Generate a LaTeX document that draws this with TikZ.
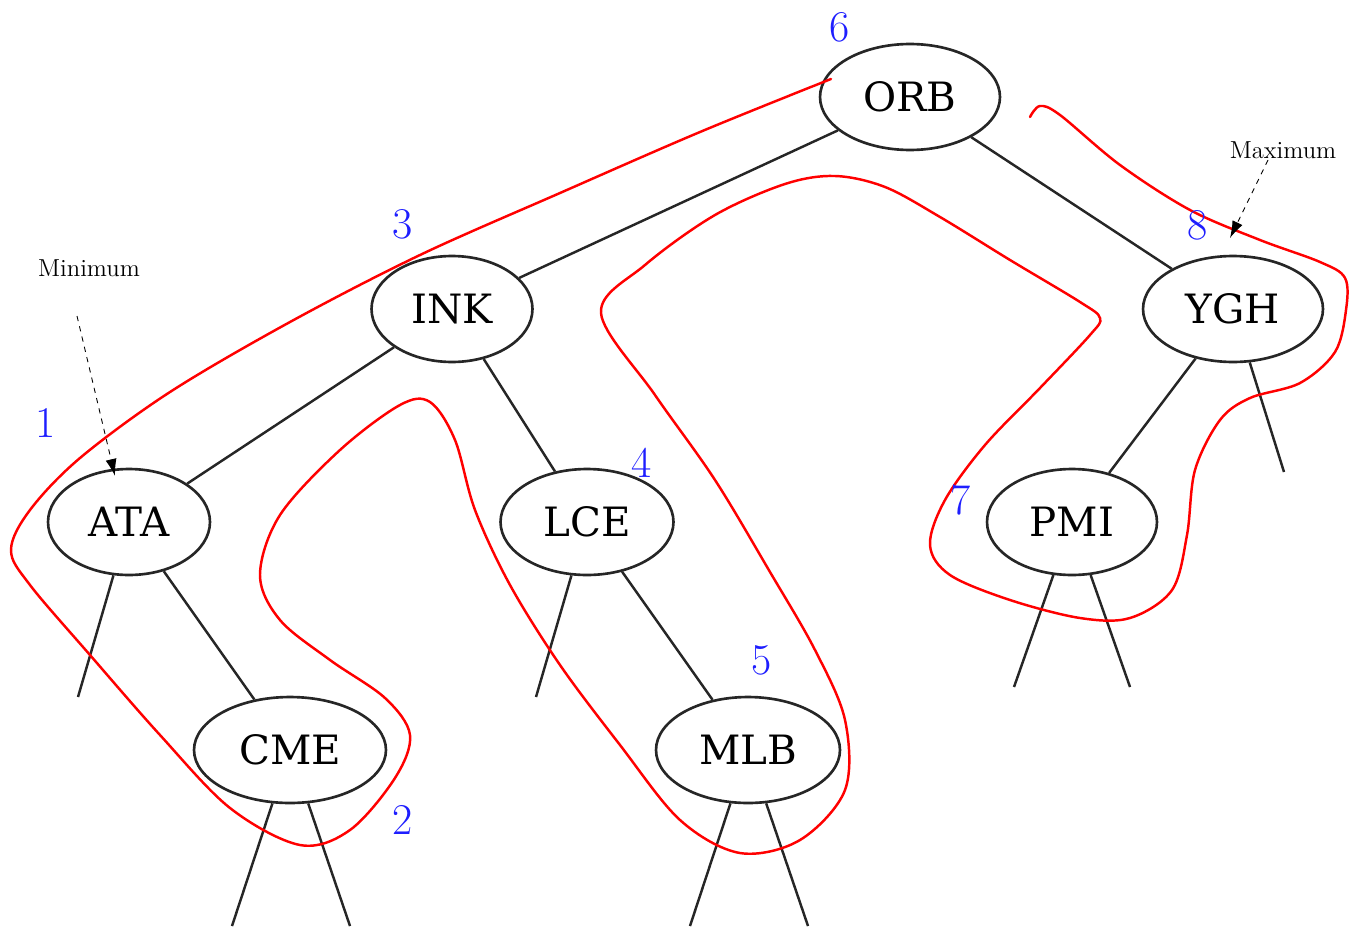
\documentclass[tikz,border=0pt]{standalone}
\usepackage{fontspec}
\newfontfamily\keyfont{DejaVu Serif}
\usetikzlibrary{shapes.geometric,arrows.meta}
\definecolor{rankblue}{RGB}{30,30,255}
\begin{document}
\begin{tikzpicture}[x=0.02cm,y=-0.02cm,
  key/.style={ellipse, draw=black!85, line width=1.5pt, inner sep=0pt,
    minimum height=2.12cm, minimum width=#1,
    font=\keyfont\fontsize{23}{26}\selectfont},
  branch/.style={draw=black!85, line width=1.4pt},
  rank/.style={text=rankblue, font=\fontsize{25}{28}\selectfont, inner sep=0pt},
  note/.style={font=\fontsize{14}{16}\selectfont, inner sep=0pt},
  pointer/.style={dashed, line width=0.5pt, -{Latex[length=3.4mm,width=2.2mm]}},
  walk/.style={red, line width=1.4pt, line join=round, line cap=round}]
\useasboundingbox (0,0) rectangle (1351,926);

% tree nodes
\node[key=3.6cm]  (ORB) at (910,97)  {ORB};
\node[key=3.22cm] (INK) at (452,309) {INK};
\node[key=3.6cm]  (YGH) at (1233,309) {YGH};
\node[key=3.24cm] (ATA) at (129,522) {ATA};
\node[key=3.46cm] (LCE) at (587,522) {LCE};
\node[key=3.4cm]  (PMI) at (1072,522) {PMI};
\node[key=3.84cm] (CME) at (290,750) {CME};
\node[key=3.68cm] (MLB) at (748,750) {MLB};

% ends of the empty subtrees
\coordinate (ataL) at (78,697);
\coordinate (cmeL) at (232,926);
\coordinate (cmeR) at (350,926);
\coordinate (lceL) at (536,697);
\coordinate (mlbL) at (690,926);
\coordinate (mlbR) at (808,926);
\coordinate (pmiL) at (1014,687);
\coordinate (pmiR) at (1130,687);
\coordinate (yghR) at (1284,472);

% branches
\draw[branch] (ORB) -- (INK);
\draw[branch] (ORB) -- (YGH);
\draw[branch] (INK) -- (ATA);
\draw[branch] (INK) -- (LCE);
\draw[branch] (ATA) -- (ataL);
\draw[branch] (ATA) -- (CME);
\draw[branch] (CME) -- (cmeL);
\draw[branch] (CME) -- (cmeR);
\draw[branch] (LCE) -- (lceL);
\draw[branch] (LCE) -- (MLB);
\draw[branch] (MLB) -- (mlbL);
\draw[branch] (MLB) -- (mlbR);
\draw[branch] (YGH) -- (PMI);
\draw[branch] (YGH) -- (yghR);
\draw[branch] (PMI) -- (pmiL);
\draw[branch] (PMI) -- (pmiR);

% in-order walk around the tree
\draw[walk] plot[smooth, tension=0.55] coordinates {
  (831,79) (700,132) (560,193) (420,255) (290,322) (170,392) (80,458)
  (30,510) (11,550) (30,585) (90,655) (160,735) (230,808) (300,845)
  (350,830) (395,778) (410,735) (385,698) (330,660) (280,620) (260,575)
  (280,515) (340,450) (400,405) (430,402) (455,440) (475,510) (510,585)
  (560,665) (620,745) (680,820) (740,853) (800,840) (845,790) (845,720)
  (815,650) (770,572) (715,480) (655,395) (601,313) (645,265) (715,215)
  (785,184) (835,176) (885,187) (940,217) (1010,260) (1080,302) (1100,318)
  (1090,335) (1040,388) (985,445) (945,500) (930,545) (950,575) (1010,600)
  (1080,618) (1130,618) (1172,590) (1187,535) (1195,470) (1220,420)
  (1250,398) (1300,383) (1335,352) (1346,310) (1345,278) (1320,262)
  (1260,240) (1190,210) (1120,165) (1060,115) (1040,106) (1030,117)};

% visiting order
\node[rank] (r1) at (46,423)  {1};
\node[rank] (r2) at (403,820) {2};
\node[rank] (r3) at (403,224) {3};
\node[rank] (r4) at (642,463) {4};
\node[rank] (r5) at (762,660) {5};
\node[rank] (r6) at (840,27)  {6};
\node[rank] (r7) at (961,500) {7};
\node[rank] (r8) at (1198,225) {8};

% minimum and maximum
\node[note] (minlabel) at (89,268) {Minimum};
\node[note] (maxlabel) at (1283,150) {Maximum};
\coordinate (minTail) at (77,316);
\coordinate (minHead) at (115,476);
\coordinate (maxTail) at (1268,160);
\coordinate (maxHead) at (1230,238);
\draw[pointer] (minTail) -- (minHead);
\draw[pointer] (maxTail) -- (maxHead);
\end{tikzpicture}
\end{document}
